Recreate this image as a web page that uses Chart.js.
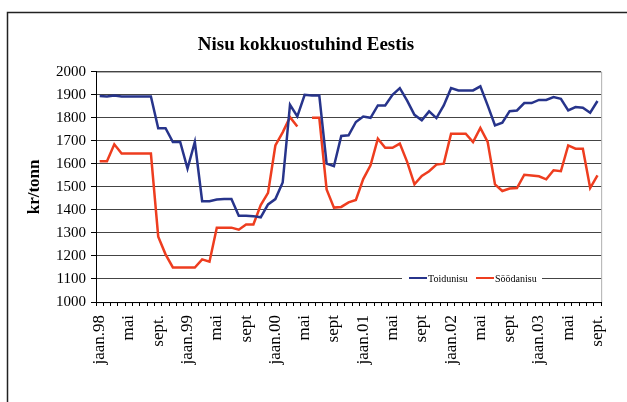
<!DOCTYPE html>
<html>
<head>
<meta charset="utf-8">
<script src="https://cdn.jsdelivr.net/npm/chart.js@4.4.1/dist/chart.umd.min.js"></script>
<style>
  html, body { margin: 0; padding: 0; background: #fff; }
  #wrap { width: 627px; height: 402px; position: relative; }
</style>
</head>
<body>
<div id="wrap"><canvas id="myChart"></canvas></div>
<script>
// monthly purchase price of wheat, jan 1998 - sept 2003
const monthNames = ['jaan', 'veebr', 'märts', 'apr', 'mai', 'juuni', 'juuli', 'aug', 'sept', 'okt', 'nov', 'dets'];
const years = ['98', '99', '00', '01', '02', '03'];
const tickLabels = ['jaan.98', 'mai', 'sept.', 'jaan.99', 'mai', 'sept', 'jaan.00', 'mai', 'sept',
    'jaan.01', 'mai', 'sept', 'jaan.02', 'mai', 'sept', 'jaan.03', 'mai', 'sept.'];

const toidunisu = [1895, 1893, 1897, 1893, 1893, 1893, 1893, 1893, 1755, 1755, 1695, 1695,
    1580, 1695, 1438, 1438, 1445, 1447, 1447, 1375, 1375, 1373, 1368, 1424,
    1447, 1519, 1857, 1806, 1900, 1897, 1897, 1601, 1590, 1721, 1724, 1782,
    1806, 1800, 1854, 1854, 1900, 1929, 1875, 1813, 1789, 1828, 1799, 1854,
    1929, 1919, 1919, 1919, 1937, 1854, 1767, 1779, 1829, 1832, 1864, 1864,
    1878, 1878, 1890, 1883, 1832, 1847, 1844, 1822, 1873];

const soodanisu = [1611, 1611, 1685, 1645, 1645, 1645, 1645, 1645, 1284, 1207, 1150, 1150,
    1150, 1150, 1185, 1175, 1323, 1323, 1323, 1314, 1337, 1337, 1421, 1474,
    1680, 1737, 1803, 1762, null, 1800, 1800, 1489, 1410, 1413, 1433, 1443,
    1534, 1594, 1709, 1670, 1670, 1688, 1609, 1511, 1548, 1568, 1597, 1601,
    1731, 1731, 1731, 1695, 1756, 1695, 1511, 1482, 1493, 1495, 1553, 1550,
    1546, 1533, 1572, 1568, 1680, 1666, 1666, 1495, 1550];

let categories = [];
years.forEach(y => monthNames.forEach(m => categories.push(m + '.' + y)));
categories = categories.slice(0, toidunisu.length);

const serif = '"Liberation Serif", "DejaVu Serif", serif';

// outer frame, plot border and the little legend inside the plot
const frame = {
    id: 'frame',
    beforeDraw(chart) {
        const { ctx, chartArea: a } = chart;
        ctx.save();
        ctx.fillStyle = '#fff';
        ctx.fillRect(0, 0, chart.width, chart.height);
        ctx.strokeStyle = '#222';
        ctx.lineWidth = 1.5;
        ctx.strokeRect(7.5, 12.5, chart.width, chart.height);
        ctx.strokeStyle = '#b0b0b0';
        ctx.lineWidth = 1;
        ctx.strokeRect(Math.round(a.left) + 0.5, Math.round(a.top) + 0.5, a.width, a.height);
        ctx.restore();
    },
    afterDatasetsDraw(chart) {
        const { ctx } = chart;
        const y = chart.scales.y.getPixelForValue(1100) - 1;
        ctx.save();
        ctx.fillStyle = '#fff';
        ctx.fillRect(402, y - 7, 140, 14);
        ctx.font = '10px ' + serif;
        ctx.textBaseline = 'middle';
        let x = 409;
        chart.data.datasets.forEach(ds => {
            ctx.strokeStyle = ds.borderColor;
            ctx.lineWidth = 2;
            ctx.beginPath();
            ctx.moveTo(x, y);
            ctx.lineTo(x + 18, y);
            ctx.stroke();
            ctx.fillStyle = '#000';
            ctx.fillText(ds.label, x + 19, y + 1);
            x += 67;
        });
        ctx.restore();
    }
};

const ctx = document.getElementById('myChart').getContext('2d');

new Chart(ctx, {
    type: 'line',
    data: {
        labels: categories,
        datasets: [{
            label: 'Toidunisu',
            data: toidunisu,
            borderColor: '#27348b',
            borderWidth: 2.5,
            pointRadius: 0,
            tension: 0
        }, {
            label: 'Söödanisu',
            data: soodanisu,
            borderColor: '#ee3d1f',
            borderWidth: 2.5,
            pointRadius: 0,
            tension: 0,
            spanGaps: false
        }]
    },
    options: {
        responsive: true,
        maintainAspectRatio: false,
        animation: false,
        layout: { padding: { left: 0, right: 15, top: 0, bottom: 0 } },
        plugins: {
            legend: { display: false },
            tooltip: { enabled: false },
            title: {
                display: true,
                text: 'Nisu kokkuostuhind Eestis',
                color: '#000',
                font: { family: serif, size: 19, weight: 'bold' },
                padding: { top: 34, bottom: 15 }
            }
        },
        scales: {
            x: {
                offset: true,
                grid: { drawOnChartArea: false, drawTicks: true, tickLength: 4, offset: true, tickColor: '#000' },
                border: { color: '#000', width: 1 },
                ticks: {
                    autoSkip: false,
                    minRotation: 90,
                    maxRotation: 90,
                    padding: 9,
                    color: '#000',
                    font: { family: serif, size: 17 },
                    callback: (v, i) => (i % 4 === 0 ? tickLabels[i / 4] : '')
                },
                afterFit: s => { s.height = 100; }
            },
            y: {
                min: 1000,
                max: 2000,
                grid: { color: '#444', tickLength: 5, tickColor: '#000' },
                border: { color: '#000', width: 1 },
                ticks: {
                    stepSize: 100,
                    padding: 5,
                    color: '#000',
                    font: { family: serif, size: 15 },
                    callback: v => String(v)
                },
                title: {
                    display: true,
                    text: 'kr/tonn',
                    color: '#000',
                    font: { family: serif, size: 17, weight: 'bold' },
                    padding: { top: 24 }
                },
                afterFit: s => { s.width = 96; }
            }
        }
    },
    plugins: [frame]
});
</script>
</body>
</html>
